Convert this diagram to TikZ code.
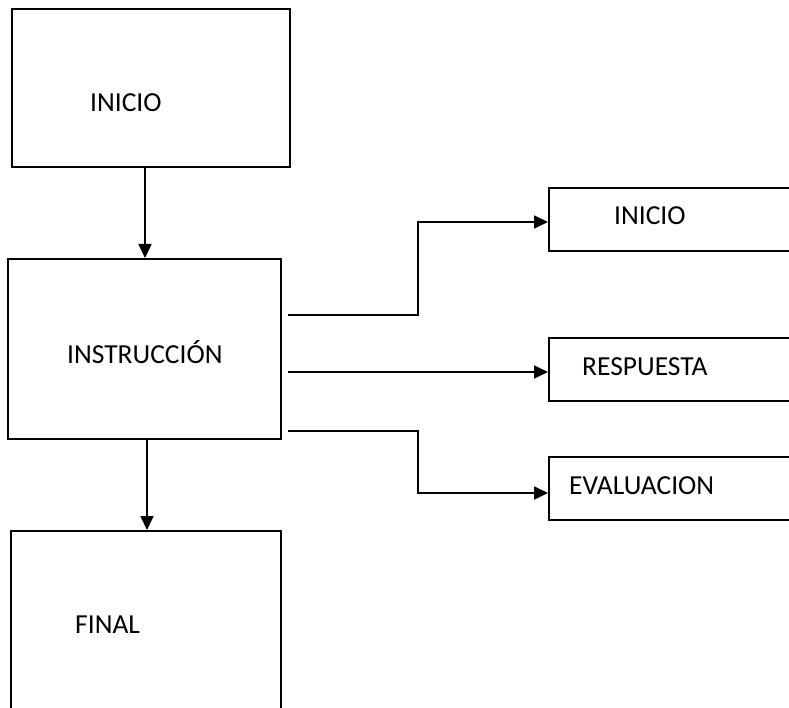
\documentclass[tikz,border=0pt]{standalone}
\usepackage{fontspec}
\setmainfont{Carlito}
\usetikzlibrary{arrows.meta}

\begin{document}
\begin{tikzpicture}[x=1pt, y=-1pt,
    caja/.style={draw, line width=1.7pt, inner sep=0pt, anchor=north west},
    texto/.style={font=\fontsize{27.5}{33}\selectfont, anchor=base west, inner sep=0pt},
    flecha/.style={line width=1.7pt, -{Triangle[length=14pt, width=13pt]}}]

  % --- Rahmen ---
  \useasboundingbox (0,0) rectangle (789,708);
  \clip (0,0) rectangle (789,708);

  % --- Kasten links ---
  \node[caja, minimum width=278pt, minimum height=158pt] (inicio) at (11,8) {};
  \node[caja, minimum width=273pt, minimum height=180pt] (instr)  at (7,258) {};
  \node[caja, minimum width=270pt, minimum height=200pt] (final)  at (10,530) {};

  % --- Kasten rechts ---
  \node[caja, minimum width=260pt, minimum height=63pt] (inicioB) at (548,187) {};
  \node[caja, minimum width=260pt, minimum height=63pt] (resp)    at (548,337) {};
  \node[caja, minimum width=260pt, minimum height=63pt] (eval)    at (548,456) {};

  % --- Beschriftungen ---
  \node[texto] (tInicio)  at (90,112)  {INICIO};
  \node[texto] (tInstr)   at (67,363)  {INSTRUCCIÓN};
  \node[texto] (tFinal)   at (75,633)  {FINAL};
  \node[texto] (tInicioB) at (614,225) {INICIO};
  \node[texto] (tResp)    at (582,375) {RESPUESTA};
  \node[texto] (tEval)    at (569,494) {EVALUACION};

  % --- Hilfspunkte der Verbindungen ---
  \coordinate (c1) at (145,0);
  \coordinate (c2) at (147,0);
  \coordinate (s1) at (288,315);
  \coordinate (s2) at (288,372);
  \coordinate (s3) at (288,431);
  \coordinate (e1) at (0,222);
  \coordinate (e3) at (0,493);

  % --- Pfeile senkrecht ---
  \draw[flecha] (inicio.south -| c1) -- (instr.north -| c1);
  \draw[flecha] (instr.south -| c2) -- (final.north -| c2);

  % --- Pfeile waagrecht ---
  \draw[flecha] (s1) -- (418,315) |- (inicioB.west |- e1);
  \draw[flecha] (s2) -- (s2 -| resp.west);
  \draw[flecha] (s3) -- (418,431) |- (eval.west |- e3);

\end{tikzpicture}
\end{document}
